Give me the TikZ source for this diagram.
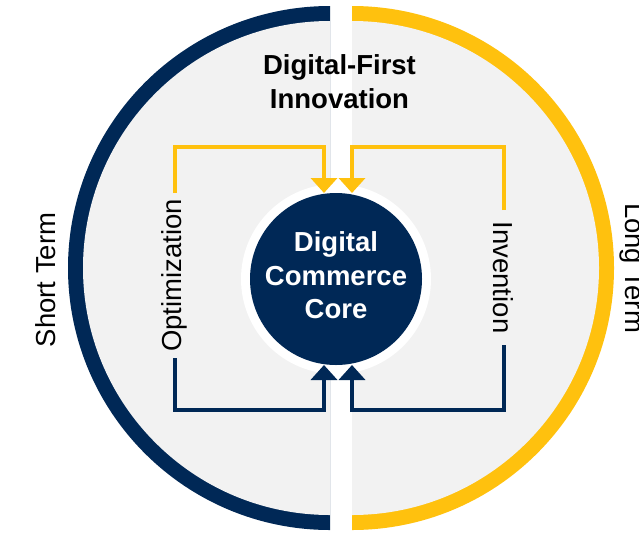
\documentclass[tikz,border=0pt]{standalone}
\usepackage{fontspec}
\setmainfont{Liberation Sans}
\usetikzlibrary{arrows.meta}
\definecolor{navy}{RGB}{0,40,86}
\definecolor{gold}{RGB}{255,193,14}
\definecolor{panel}{RGB}{242,242,242}
\begin{document}
\begin{tikzpicture}[x=1pt,y=-1pt,
  bigfont/.style={font=\fontsize{27.5}{34}\selectfont},
  titletext/.style={font=\bfseries\fontsize{27.5}{34}\selectfont, align=center, text=black},
  coretext/.style={font=\bfseries\fontsize{27.5}{33.5}\selectfont, align=center, text=white},
  coredisk/.style={circle, fill=navy, minimum size=172pt, inner sep=0pt, outer sep=0pt,
    preaction={draw=white, line width=18pt}},
  looplabel/.style={bigfont, inner sep=0pt, outer sep=0pt},
  sidetext/.style={bigfont, inner sep=0pt},
  flow/.style={line width=4pt, -{Triangle[width=26pt,length=15pt]}},
  ylw/.style={flow, draw=gold},
  nvy/.style={flow, draw=navy}]
\useasboundingbox (0,0) rectangle (639,533);
\fill[white] (0,0) rectangle (639,533);
% left half ring
\begin{scope}
  \clip (0,0) rectangle (330,533);
  \fill[navy] (330,268) circle[radius=262];
  \fill[panel] (330,268) circle[radius=247];
\end{scope}
% right half ring
\begin{scope}
  \clip (352,0) rectangle (639,533);
  \fill[gold] (352,268) circle[radius=262];
  \fill[panel] (352,268) circle[radius=247];
\end{scope}
% core
\node[coredisk] (core) at (336,279) {};
\node[coretext] (coretxt) at ([yshift=3.5pt]core.center) {Digital\\Commerce\\Core};
% title
\node[titletext] (title) at (339.5,82) {Digital-First\\Innovation};
% side labels
\node[sidetext, rotate=90, anchor=base] (short) at (55,280) {Short Term};
\node[sidetext, rotate=-90, anchor=base] (long) at (625,268) {Long Term};
% loop labels
\node[looplabel, rotate=90, minimum width=165pt] (opt) at (174.5,275.5) {Optimization};
\node[looplabel, rotate=-90, minimum width=135pt] (inv) at (503.5,277.5) {Invention};
% corners
\coordinate (ytl) at (324,147);
\coordinate (ytr) at (352,147);
\coordinate (nbl) at (324,410);
\coordinate (nbr) at (352,410);
% connectors
\draw[ylw] (opt.east) |- (ytl) -- (ytl |- core.north);
\draw[nvy] (opt.west) |- (nbl) -- (nbl |- core.south);
\draw[ylw] (inv.west) |- (ytr) -- (ytr |- core.north);
\draw[nvy] (inv.east) |- (nbr) -- (nbr |- core.south);
\end{tikzpicture}
\end{document}
